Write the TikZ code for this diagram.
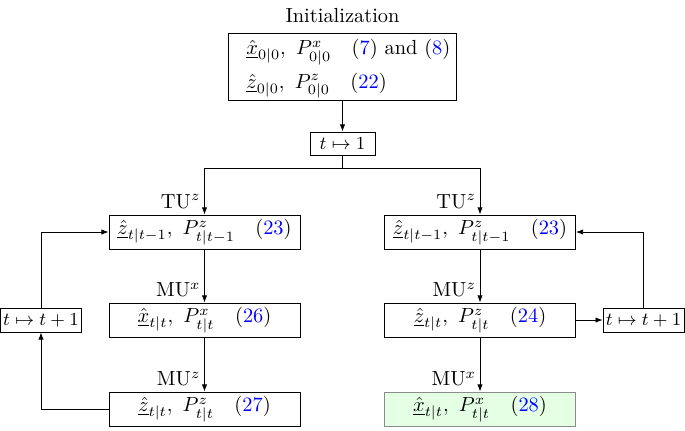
\documentclass[tikz,border=0pt]{standalone}
\usetikzlibrary{arrows.meta}
\begin{document}
\begin{tikzpicture}[x=0.49pt,y=-0.49pt,
  box/.style={draw,rectangle,inner sep=0pt,minimum width=93.6pt,minimum height=16.7pt},
  incbox/.style={draw,rectangle,inner sep=0pt,minimum width=39.6pt,minimum height=11.8pt,font=\fontsize{9}{11}\selectfont},
  arr/.style={-{Latex[length=3.5pt,width=2.6pt]}},
  lab/.style={left,inner sep=1.8pt},
  finalbox/.style={box,fill=green!10,draw=black!45}]
\useasboundingbox (0,0) rectangle (685,430);
\definecolor{refblue}{rgb}{0,0,1}
\newcommand{\eqr}[1]{(\textcolor{refblue}{#1})}
\node (title) at (342.5,16) {Initialization};
\node[draw,rectangle,inner sep=0pt,minimum width=111.7pt,minimum height=32.8pt] (init) at (342.5,66.5) {};
\node[anchor=west,inner sep=0pt,align=left] (inittext) at (246,69)
  {$\underline{\hat{x}}_{0|0},\ P^x_{0|0}$\quad\eqr{7} and \eqr{8}\\[3pt]
   $\underline{\hat{z}}_{0|0},\ P^z_{0|0}$\quad\eqr{22}};
\node[incbox,minimum width=31.8pt,minimum height=11.3pt] (t1) at (342.5,143.5) {$t\mapsto 1$};
\coordinate (split) at (342.5,168);
\coordinate (lsplit) at (204.5,168);
\coordinate (rsplit) at (480,168);
% left column
\node[box] (lz1) at (204.5,232) {$\underline{\hat{z}}_{t|t-1},\ P^z_{t|t-1}$\quad\eqr{23}};
\node[box] (lx) at (204.5,320) {$\underline{\hat{x}}_{t|t},\ P^x_{t|t}$\quad\eqr{26}};
\node[box] (lz) at (204.5,409) {$\underline{\hat{z}}_{t|t},\ P^z_{t|t}$\quad\eqr{27}};
\node[incbox] (linc) at (41,320) {$t\mapsto t+1$};
% right column
\node[box] (rz1) at (480,232) {$\underline{\hat{z}}_{t|t-1},\ P^z_{t|t-1}$\quad\eqr{23}};
\node[box] (rz) at (480,320) {$\underline{\hat{z}}_{t|t},\ P^z_{t|t}$\quad\eqr{24}};
\node[finalbox] (rx) at (480,409) {$\underline{\hat{x}}_{t|t},\ P^x_{t|t}$\quad\eqr{28}};
\node[incbox] (rinc) at (643.5,320) {$t\mapsto t+1$};
% connectors
\draw[arr] (init) -- (t1);
\draw (t1) -- (split);
\draw (lsplit) -- (rsplit);
\draw[arr] (lsplit) -- node[lab,pos=0.72]{TU$^z$} (lz1);
\draw[arr] (rsplit) -- node[lab,pos=0.72]{TU$^z$} (rz1);
\draw[arr] (lz1) -- node[lab,pos=0.76]{MU$^x$} (lx);
\draw[arr] (lx) -- node[lab,pos=0.77]{MU$^z$} (lz);
\draw[arr] (rz1) -- node[lab,pos=0.76]{MU$^z$} (rz);
\draw[arr] (rz) -- node[lab,pos=0.77]{MU$^x$} (rx);
\draw[arr] (lz.west) -| (linc.south);
\draw[arr] (linc.north) |- (lz1.west);
\draw[arr] (rz.east) -- (rinc.west);
\draw[arr] (rinc.north) |- (rz1.east);
\end{tikzpicture}
\end{document}
